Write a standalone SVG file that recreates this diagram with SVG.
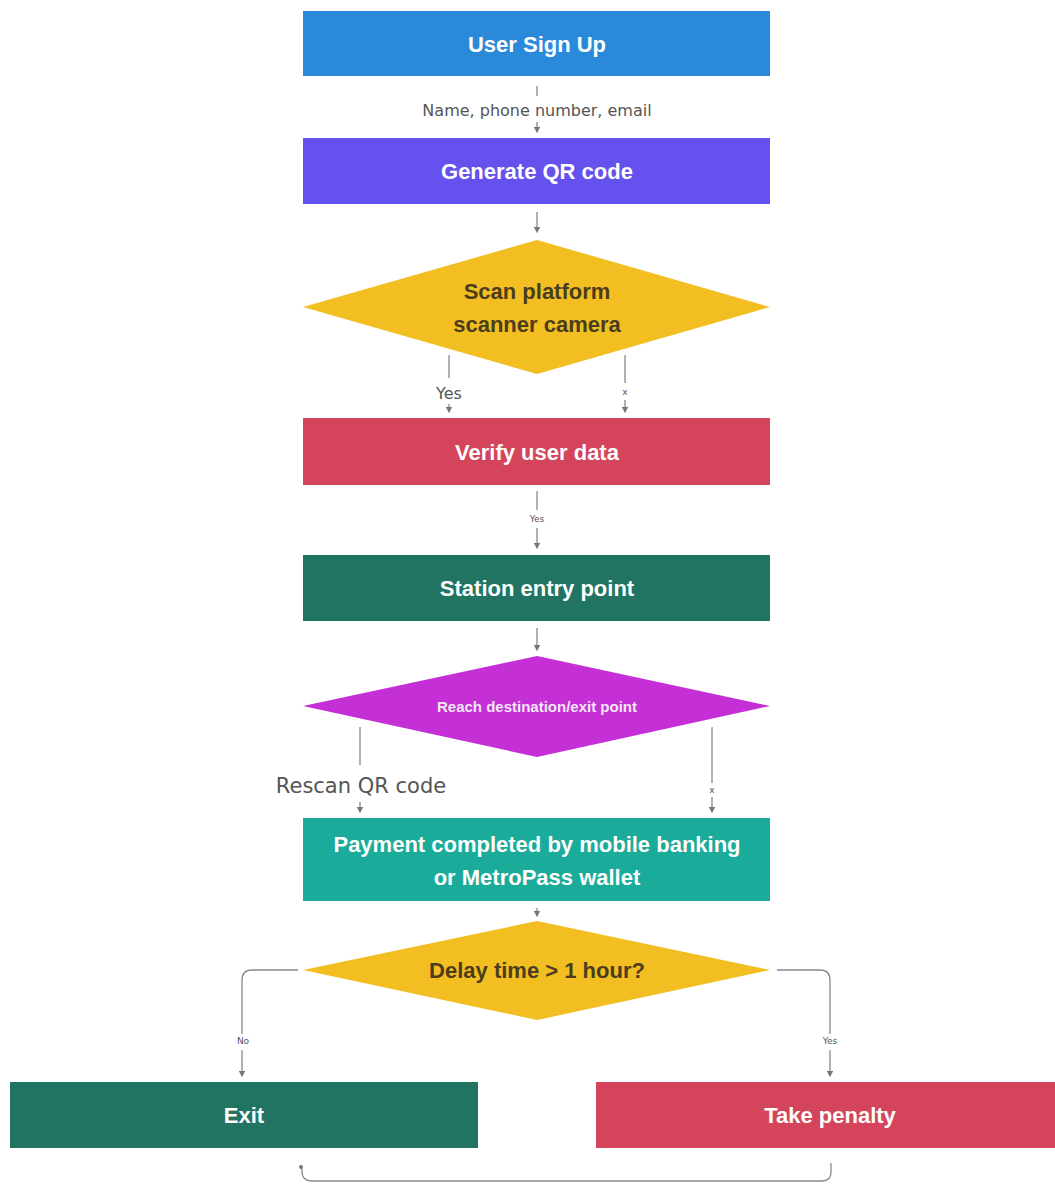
<svg xmlns="http://www.w3.org/2000/svg" width="1055" height="1187" viewBox="0 0 1055 1187">
<style>
.t{font-family:"Liberation Sans",Arial,sans-serif;font-weight:bold;font-size:22px;fill:#fff;text-anchor:middle;dominant-baseline:central}
.d{fill:#4a3d1c}
.l{font-family:"DejaVu Sans",sans-serif;font-size:14px;fill:#555;text-anchor:middle;dominant-baseline:central}
.c{fill:none;stroke:#888;stroke-width:1.3}
</style>
<defs>
<marker id="a" viewBox="0 0 6 6" refX="3" refY="3" markerWidth="5" markerHeight="5" orient="auto"><path d="M0,0L6,3L0,6z" fill="#777"/></marker>
</defs>
<rect width="1055" height="1187" fill="#fff"/>
<g id="connectors">
<line class="c" x1="537" y1="86" x2="537" y2="96"/>
<text class="l" x="537" y="110" style="font-size:16px">Name, phone number, email</text>
<line class="c" x1="537" y1="122" x2="537" y2="130" marker-end="url(#a)"/>
<line class="c" x1="537" y1="212" x2="537" y2="230" marker-end="url(#a)"/>
<line class="c" x1="449" y1="355" x2="449" y2="378"/>
<text class="l" x="449" y="393" style="font-size:16px">Yes</text>
<line class="c" x1="449" y1="404" x2="449" y2="410" marker-end="url(#a)"/>
<line class="c" x1="625" y1="355" x2="625" y2="383"/>
<text class="l" x="625" y="392" style="font-size:9px">x</text>
<line class="c" x1="625" y1="400" x2="625" y2="410" marker-end="url(#a)"/>
<line class="c" x1="537" y1="491" x2="537" y2="510"/>
<text class="l" x="537" y="519" style="font-size:9px">Yes</text>
<line class="c" x1="537" y1="528" x2="537" y2="546" marker-end="url(#a)"/>
<line class="c" x1="537" y1="628" x2="537" y2="648" marker-end="url(#a)"/>
<line class="c" x1="360" y1="727" x2="360" y2="765"/>
<text class="l" x="361" y="786" style="font-size:21px">Rescan QR code</text>
<line class="c" x1="360" y1="802" x2="360" y2="810" marker-end="url(#a)"/>
<line class="c" x1="712" y1="727" x2="712" y2="783"/>
<text class="l" x="712" y="790" style="font-size:9px">x</text>
<line class="c" x1="712" y1="797" x2="712" y2="810" marker-end="url(#a)"/>
<line class="c" x1="537" y1="908" x2="537" y2="914" marker-end="url(#a)"/>
<path class="c" d="M298,970H252Q242,970 242,980V1034"/>
<text class="l" x="243" y="1041" style="font-size:9px">No</text>
<line class="c" x1="242" y1="1050" x2="242" y2="1074" marker-end="url(#a)"/>
<path class="c" d="M777,970H820Q830,970 830,980V1034"/>
<text class="l" x="830" y="1041" style="font-size:9px">Yes</text>
<line class="c" x1="830" y1="1050" x2="830" y2="1074" marker-end="url(#a)"/>
<path class="c" d="M831,1163V1172Q831,1181 822,1181H312Q302,1181 302,1172V1168"/>
<circle cx="301" cy="1167" r="2" fill="#777"/>
</g>
<g id="n1"><rect x="303" y="11" width="467" height="65" fill="#2a8ad9"/><text class="t" x="537" y="44">User Sign Up</text></g>
<g id="n2"><rect x="303" y="138" width="467" height="66" fill="#6552ee"/><text class="t" x="537" y="171">Generate QR code</text></g>
<g id="n3"><polygon points="537,240 770,307 537,374 303,307" fill="#f3be22"/><text class="t d" x="537" y="291">Scan platform</text><text class="t d" x="537" y="324">scanner camera</text></g>
<g id="n4"><rect x="303" y="418" width="467" height="67" fill="#d4445b"/><text class="t" x="537" y="452">Verify user data</text></g>
<g id="n5"><rect x="303" y="555" width="467" height="66" fill="#217461"/><text class="t" x="537" y="588">Station entry point</text></g>
<g id="n6"><polygon points="537,656 770,706 537,757 303,706" fill="#c42fd6"/><text class="t" x="537" y="706" style="font-size:15px;fill:#f3e6f5">Reach destination/exit point</text></g>
<g id="n7"><rect x="303" y="818" width="467" height="83" fill="#1aab9b"/><text class="t" x="537" y="844">Payment completed by mobile banking</text><text class="t" x="537" y="877">or MetroPass wallet</text></g>
<g id="n8"><polygon points="537,921 770,970 537,1020 303,970" fill="#f3be22"/><text class="t d" x="537" y="970">Delay time &gt; 1 hour?</text></g>
<g id="n9"><rect x="10" y="1082" width="468" height="66" fill="#217461"/><text class="t" x="244" y="1115">Exit</text></g>
<g id="n10"><rect x="596" y="1082" width="459" height="66" fill="#d4445b"/><text class="t" x="830" y="1115">Take penalty</text></g>
</svg>
